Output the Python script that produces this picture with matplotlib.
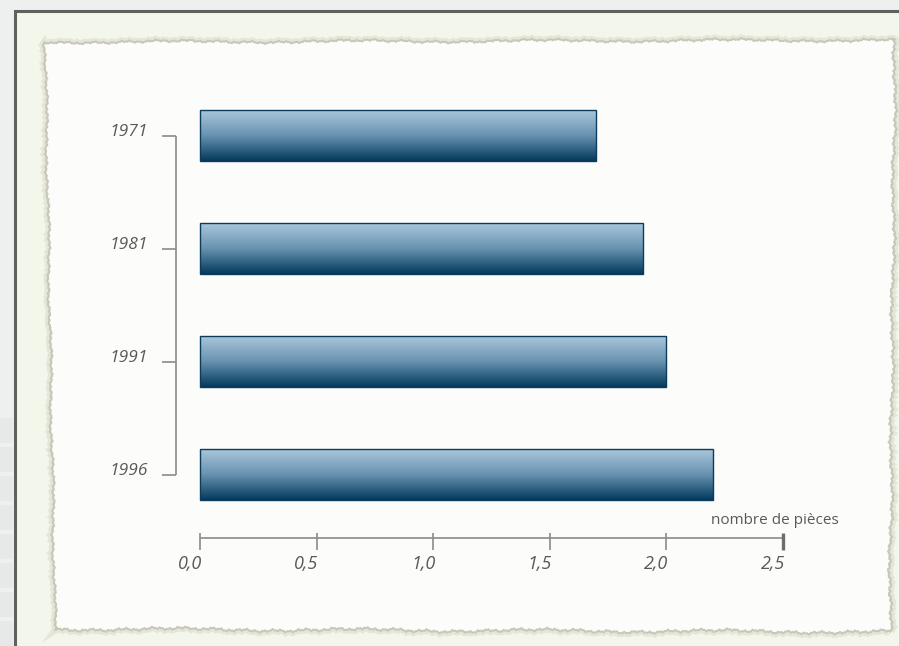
import numpy as np
import matplotlib
matplotlib.use("Agg")
import matplotlib.pyplot as plt
from matplotlib.patches import Rectangle, Polygon
from matplotlib.colors import LinearSegmentedColormap

plt.rcParams['font.family'] = ['Open Sans', 'DejaVu Sans']

# ---- data ----
years = ["1971", "1981", "1991", "1996"]
values = [1.70, 1.90, 2.00, 2.20]
xticks = [0.0, 0.5, 1.0, 1.5, 2.0, 2.5]
xticklabels = ["0,0", "0,5", "1,0", "1,5", "2,0", "2,5"]
xlabel = "nombre de pièces"

W, H = 899, 646
fig = plt.figure(figsize=(W / 100, H / 100), dpi=100)
fig.patch.set_facecolor("#eef0ef")

# ---- background axes in pixel coordinates ----
bg = fig.add_axes([0, 0, 1, 1], zorder=0)
bg.set_xlim(0, W)
bg.set_ylim(H, 0)
bg.axis("off")

# left strip bands
for yb in range(418, 646, 29):
    bg.add_patch(Rectangle((0, yb), 13, 25, facecolor="#e6e9e8", edgecolor="none"))
# frame
bg.add_patch(Rectangle((15, 11), W, H, facecolor="#f3f6eb", edgecolor="#5f615c", lw=2.2))

# torn paper (deterministic rough edge)
def edge(p0, p1, n, amp, ph):
    t = np.linspace(0, 1, n)
    x = p0[0] + (p1[0] - p0[0]) * t
    y = p0[1] + (p1[1] - p0[1]) * t
    d = amp * (np.sin(t * 611 + ph) * 0.35 + np.sin(t * 1433 + 2 * ph) * 0.3
               + np.sin(t * 173 + 3 * ph) * 0.4 + np.sin(t * 29 + ph) * 0.6)
    dx, dy = (p1[0] - p0[0]), (p1[1] - p0[1])
    L = np.hypot(dx, dy)
    nx, ny = -dy / L, dx / L
    return np.column_stack([x + nx * d, y + ny * d])

corners = [(45, 42), (895, 40), (890, 632), (55, 629)]
pts = np.vstack([
    edge(corners[0], corners[1], 900, 1.6, 0.3),
    edge(corners[1], corners[2], 650, 2.0, 1.1),
    edge(corners[2], corners[3], 900, 2.0, 2.0),
    edge(corners[3], corners[0], 650, 1.6, 0.7),
])
bg.add_patch(Polygon(pts, closed=True, facecolor="none", edgecolor="#e2e3d6", lw=5, alpha=0.8))
bg.add_patch(Polygon(pts, closed=True, facecolor="#fcfcfa", edgecolor="#c7c8b8", lw=1.4, joinstyle="round"))

# ---- main axes: data coordinates ----
x0_px, unit_px = 200.0, 233.2
y0_px, step_px = 135.5, 113.0
ax = fig.add_axes([0, 0, 1, 1], zorder=1)
ax.patch.set_alpha(0)
ax.set_xlim(-x0_px / unit_px, (W - x0_px) / unit_px)
ax.set_ylim((H - y0_px) / step_px, -y0_px / step_px)
ax.axis("off")

ypos = np.arange(len(years))
bh = 51.0 / step_px
cmap = LinearSegmentedColormap.from_list("g", ["#aac7db", "#6892b0", "#023a5d"])
grad = np.linspace(0, 1, 256).reshape(-1, 1)
bars = ax.barh(ypos, values, height=bh, facecolor="none", edgecolor="#0b3c5c", lw=1.0, zorder=3)
for b in bars:
    x, y, w, h = b.get_x(), b.get_y(), b.get_width(), b.get_height()
    im = ax.imshow(grad, cmap=cmap, aspect="auto", extent=(x, x + w, y + h, y),
                   origin="upper", zorder=2, interpolation="bilinear")
    im.set_clip_path(b)

grey = "#8c8c86"
txt = "#595959"
# bracket
bx = -24 / unit_px
tx = -38 / unit_px
ax.plot([bx, bx], [ypos[0], ypos[-1]], color=grey, lw=1.2, solid_capstyle="butt")
for y in ypos:
    ax.plot([tx, bx], [y, y], color=grey, lw=1.2, solid_capstyle="butt")
for y, lab in zip(ypos, years):
    ax.text(-52 / unit_px, y - 0.035, lab, ha="right", va="center", fontsize=12.5,
            style="italic", color=txt)

# x axis
ya = (538 - y0_px) / step_px
yt0 = (533 - y0_px) / step_px
yt1 = (550 - y0_px) / step_px
ax.plot([xticks[0], xticks[-1]], [ya, ya], color=grey, lw=1.2, solid_capstyle="butt")
for i, (v, lab) in enumerate(zip(xticks, xticklabels)):
    ax.plot([v, v], [yt0, yt1], color=grey if i < len(xticks) - 1 else "#6f6f6a",
            lw=1.2 if i < len(xticks) - 1 else 2.4, solid_capstyle="butt")
    ax.text(v + 2 / unit_px, (564 - y0_px) / step_px, lab, ha="right", va="center",
            fontsize=13, style="italic", color=txt)
ax.text((775 - x0_px) / unit_px, (520 - y0_px) / step_px, xlabel, ha="center", va="center",
        fontsize=11, color=txt)

fig.savefig("out.png", dpi=100, facecolor=fig.get_facecolor())
